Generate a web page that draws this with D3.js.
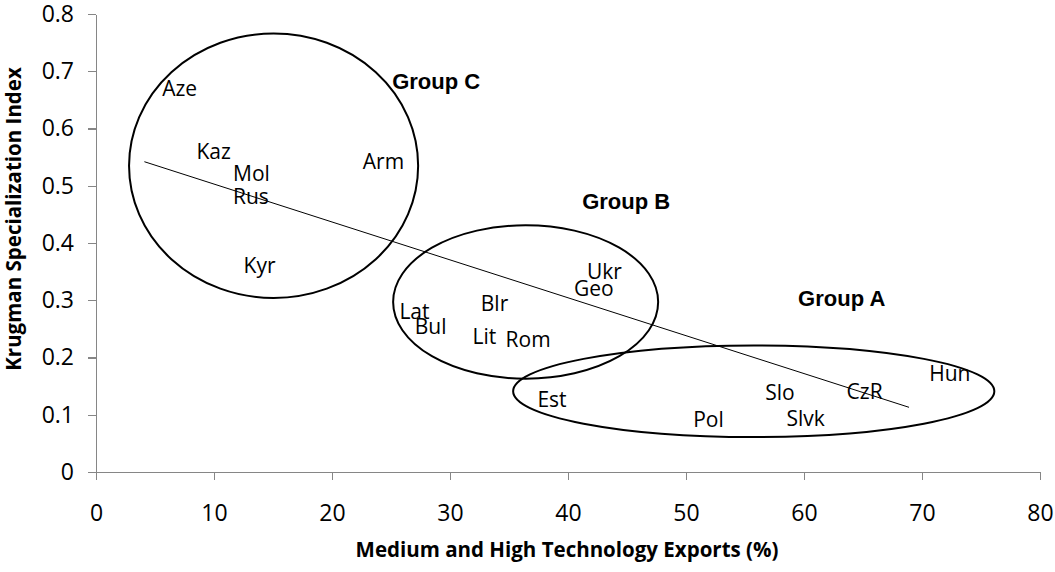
<!DOCTYPE html>
<html>
  <head>
    <meta http-equiv="Content-Type" content="text/html;charset=utf-8">
    <title>Krugman Specialization vs Technology Exports</title>
    <script src="https://cdn.jsdelivr.net/npm/d3@7"></script>
    <style type="text/css">
body {
    margin: 0;
    background: #fff;
}
.axis path, .axis line {
    stroke: #868686;
    stroke-width: 1.3px;
    shape-rendering: crispEdges;
}
.axis text {
    font-family: "Open Sans", sans-serif;
    font-size: 23px;
    fill: #000;
}
.country {
    font-family: "Open Sans", sans-serif;
    font-size: 21px;
    fill: #000;
}
.group {
    font-family: "Liberation Sans", Arial, sans-serif;
    font-weight: bold;
    font-size: 22px;
    fill: #000;
}
.title {
    font-family: "Open Sans", sans-serif;
    font-weight: bold;
    font-size: 20.5px;
    fill: #000;
}
ellipse {
    fill: none;
    stroke: #000;
    stroke-width: 2px;
}
    </style>
  </head>
  <body>
    <script type="text/javascript">
// data
var countries = ['Aze', 'Kaz', 'Mol', 'Rus', 'Kyr', 'Arm', 'Ukr', 'Geo', 'Blr', 'Lat',
                 'Bul', 'Lit', 'Rom', 'Est', 'Pol', 'Slo', 'Slvk', 'CzR', 'Hun'];
var techExports = [4.0, 6.9, 10.0, 10.0, 10.9, 21.0, 40.0, 38.9, 31.0, 24.1,
                   25.4, 30.3, 33.1, 35.8, 49.0, 55.1, 56.9, 62.0, 69.0];
var krugman = [0.670, 0.559, 0.522, 0.481, 0.361, 0.542, 0.350, 0.320, 0.294, 0.280,
               0.254, 0.237, 0.232, 0.126, 0.092, 0.139, 0.093, 0.141, 0.172];

// linear trend line end points
var trendX = [4.1, 68.9];
var trendY = [0.542, 0.113];

// group ellipses (centre and radii in data units)
var groupNames = ['Group C', 'Group B', 'Group A'];
var groupCx = [15.05, 36.41, 55.74];
var groupCy = [0.535, 0.297, 0.141];
var groupRx = [12.25, 11.23, 20.39];
var groupRy = [0.231, 0.134, 0.080];
var groupLabelX = [25.1, 41.2, 59.5];
var groupLabelY = [0.682, 0.472, 0.303];

var xTicks = d3.range(0, 81, 10);
var yTicks = d3.range(0, 0.81, 0.1);

// chart
var w = 1055,
    h = 572,
    plotLeft = 96,
    plotRight = 1040,
    plotTop = 14,
    plotBottom = 472,
    labelOffset = 19;

var svg = d3.select('body').append('svg')
    .attr('width', w)
    .attr('height', h);

var x = d3.scaleLinear().domain([0, 80]).range([plotLeft, plotRight]);
var y = d3.scaleLinear().domain([0, 0.8]).range([plotBottom, plotTop]);

svg.append('g')
    .attr('class', 'axis')
    .attr('transform', 'translate(0,' + plotBottom + ')')
    .call(d3.axisBottom(x).tickValues(xTicks).tickSize(8).tickSizeOuter(0).tickPadding(25)
        .tickFormat(d3.format('d')));

svg.append('g')
    .attr('class', 'axis')
    .attr('transform', 'translate(' + plotLeft + ',0)')
    .call(d3.axisLeft(y).tickValues(yTicks).tickSize(8).tickSizeOuter(0).tickPadding(14)
        .tickFormat(function(d) { return d < 1e-9 ? '0' : d3.format('.1f')(d) }));

// trend line
svg.append('line')
    .attr('x1', x(trendX[0]))
    .attr('y1', y(trendY[0]))
    .attr('x2', x(trendX[1]))
    .attr('y2', y(trendY[1]))
    .attr('stroke', '#000')
    .attr('stroke-width', 1);

// group ellipses
svg.selectAll('ellipse')
    .data(groupNames)
  .enter().append('ellipse')
    .attr('cx', function(d, i) { return x(groupCx[i]) })
    .attr('cy', function(d, i) { return y(groupCy[i]) })
    .attr('rx', function(d, i) { return x(groupRx[i]) - x(0) })
    .attr('ry', function(d, i) { return y(0) - y(groupRy[i]) });

svg.selectAll('text.group')
    .data(groupNames)
  .enter().append('text')
    .attr('class', 'group')
    .attr('x', function(d, i) { return x(groupLabelX[i]) })
    .attr('y', function(d, i) { return y(groupLabelY[i]) })
    .attr('dy', '0.35em')
    .text(function(d) { return d });

// country labels, placed to the right of each (hidden) point
svg.selectAll('text.country')
    .data(countries)
  .enter().append('text')
    .attr('class', 'country')
    .attr('x', function(d, i) { return x(techExports[i]) + labelOffset })
    .attr('y', function(d, i) { return y(krugman[i]) })
    .attr('dy', '0.35em')
    .text(function(d) { return d });

// axis titles
svg.append('text')
    .attr('class', 'title')
    .attr('x', 567)
    .attr('y', 557)
    .attr('text-anchor', 'middle')
    .text('Medium and High Technology Exports (%)');

svg.append('text')
    .attr('class', 'title')
    .attr('transform', 'translate(21,219) rotate(-90)')
    .attr('text-anchor', 'middle')
    .text('Krugman Specialization Index');
    </script>
  </body>
</html>
